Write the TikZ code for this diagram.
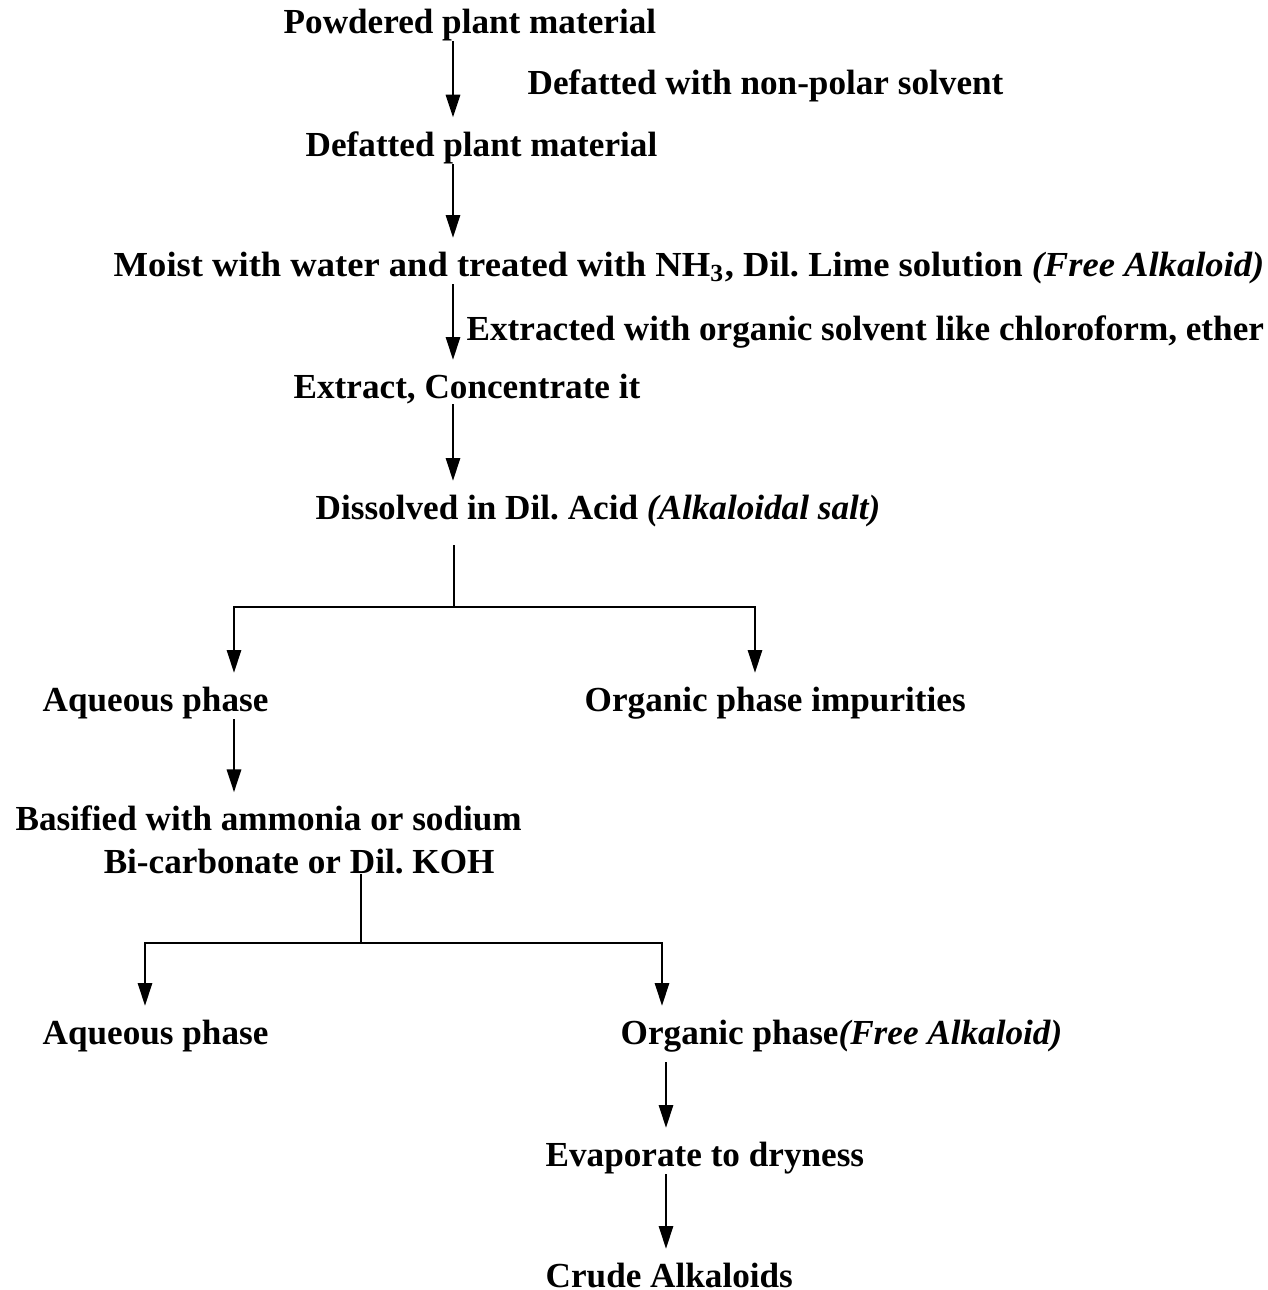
\documentclass[tikz,border=0pt]{standalone}
\usepackage{fontspec}
\setmainfont{Liberation Serif}
\usetikzlibrary{arrows.meta}
\frenchspacing

\begin{document}
\begin{tikzpicture}[x=0.01cm, y=-0.01cm,
  stage/.style={anchor=base west, inner sep=0pt, font=\fontsize{10pt}{12pt}\selectfont\bfseries},
  arr/.style={-{Triangle[length=6.5pt, width=4pt]}, line width=0.8pt, shorten >=0.13cm},
  branch/.style={line width=0.6pt},
]
\useasboundingbox (0,0) rectangle (1268,1290);

% Columnas de las flechas
\coordinate (colA) at (453,0);
\coordinate (colB) at (234,0);
\coordinate (colC) at (755,0);
\coordinate (colE) at (145,0);
\coordinate (colF) at (662,0);
\coordinate (colG) at (666,0);
\coordinate (split1) at (454,607);
\coordinate (split2) at (361,943);

% Etapas
\node[stage] at (283,33)   (powder)   {Powdered plant material};
\node[stage] at (527,94)   (defnote)  {Defatted with non-polar solvent};
\node[stage] at (305,156)  (defat)    {Defatted plant material};
\node[stage] at (113,276)  (moist)    {\scalebox{1.04}[1]{Moist with water and treated with NH\textsubscript{3}, Dil. Lime solution \textit{(Free Alkaloid)}}};
\node[stage] at (466,340)  (extnote)  {Extracted with organic solvent like chloroform, ether};
\node[stage] at (293,398)  (extract)  {Extract, Concentrate it};
\node[stage] at (315,519)  (dissolve) {Dissolved in Dil. Acid \textit{(Alkaloidal salt)}};
\node[stage] at (42,711)   (aqueous)  {Aqueous phase};
\node[stage] at (584,711)  (orgimp)   {Organic phase impurities};
\node[stage, align=left] at (15,873) (basify)
  {Basified with ammonia or sodium\\\hspace*{0.88cm}Bi-carbonate or Dil. KOH};
\node[stage] at (42,1044)  (aqueousb) {Aqueous phase};
\node[stage] at (620,1044) (organic)  {Organic phase\textit{(Free Alkaloid)}};
\node[stage] at (545,1166) (evap)     {Evaporate to dryness};
\node[stage] at (545,1287) (crude)    {Crude Alkaloids};

% Flechas principales
\draw[arr] (powder.south -| colA)  -- (defat.north -| colA);
\draw[arr] (defat.south -| colA)   -- (moist.north -| colA);
\draw[arr] (moist.south -| colA)   -- (extract.north -| colA);
\draw[arr] (extract.south -| colA) -- (dissolve.north -| colA);

% Primera separacion
\draw[branch] (dissolve.south -| split1) ++(0,18) -- (split1);
\draw[arr] (split1) -| (aqueous.north -| colB);
\draw[arr] (split1) -| (orgimp.north -| colC);
\draw[arr] (aqueous.south -| colB) -- (basify.north -| colB);

% Segunda separacion
\draw[branch] (basify.south -| split2) -- (split2);
\draw[arr] (split2) -| (aqueousb.north -| colE);
\draw[arr] (split2) -| (organic.north -| colF);
\draw[arr] (organic.south -| colG) ++(0,10) -- (evap.north -| colG);
\draw[arr] (evap.south -| colG)    -- (crude.north -| colG);

\end{tikzpicture}
\end{document}
